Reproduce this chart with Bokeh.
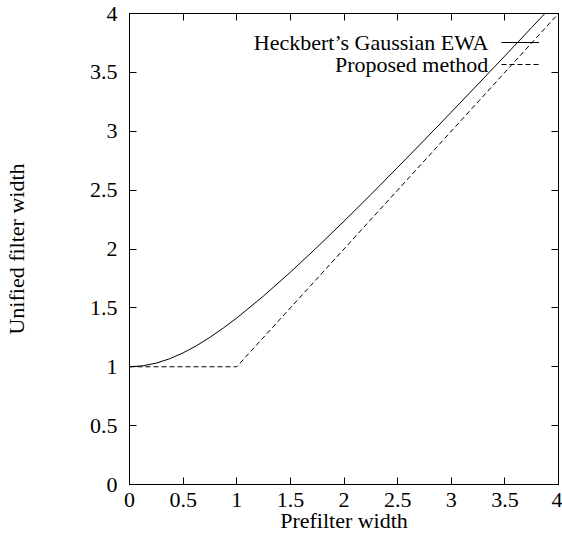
from bokeh.plotting import figure
from bokeh.models import Range1d, LinearAxis, FixedTicker, Legend, LegendItem, Label
from bokeh.embed import file_html
from bokeh.resources import INLINE

# Data
ewa_x = [0.0, 0.125, 0.25, 0.375, 0.5, 0.625, 0.75, 0.875, 1.0, 1.25, 1.5, 1.75, 2.0, 2.25, 2.5, 2.75, 3.0, 3.25, 3.5, 3.75, 4.0]
ewa_y = [1.0, 1.008, 1.031, 1.068, 1.118, 1.179, 1.25, 1.329, 1.414, 1.601, 1.803, 2.016, 2.236, 2.462, 2.693, 2.926, 3.162, 3.400, 3.640, 3.881, 4.123]
prop_x = [0.0, 1.0, 4.0]
prop_y = [1.0, 1.0, 4.0]
ticks = [0, 0.5, 1, 1.5, 2, 2.5, 3, 3.5, 4]
tick_labels = {0: "0", 0.5: "0.5", 1: "1", 1.5: "1.5", 2: "2", 2.5: "2.5", 3: "3", 3.5: "3.5", 4: "4"}
legend_labels = ["Heckbert\u2019s Gaussian EWA", "Proposed method"]
x_title = "Prefilter width"
y_title = "Unified filter width"

FONT = "Liberation Serif"
FS = "22px"

p = figure(frame_width=429, frame_height=471, output_backend="svg", toolbar_location=None,
           x_range=Range1d(0, 4), y_range=Range1d(0, 4),
           min_border_left=129, min_border_right=4, min_border_top=13, min_border_bottom=45,
           x_axis_label=x_title, y_axis_label=y_title)
p.grid.visible = False
p.outline_line_color = "black"
p.outline_line_width = 1
p.background_fill_color = "white"
p.border_fill_color = "white"

def style_axis(ax, labels=True):
    ax.ticker = FixedTicker(ticks=ticks)
    ax.major_label_overrides = tick_labels
    ax.major_tick_in = 7
    ax.major_tick_out = 0
    ax.minor_tick_in = 0
    ax.minor_tick_out = 0
    ax.axis_line_color = "black"
    ax.major_tick_line_color = "black"
    ax.major_label_text_font = FONT
    ax.major_label_text_font_size = FS if labels else "0px"
    ax.major_label_text_color = "black"
    ax.axis_label_text_font = FONT
    ax.axis_label_text_font_size = FS
    ax.axis_label_text_font_style = "normal"
    ax.axis_label_text_color = "black"

for ax in p.xaxis:
    style_axis(ax)
    ax.major_label_standoff = 8
    ax.axis_label_standoff = -2
for ax in p.yaxis:
    style_axis(ax)
    ax.major_label_standoff = 12
    ax.axis_label_standoff = 58

top = LinearAxis()
style_axis(top, labels=False)
top.major_label_standoff = 0
p.add_layout(top, "above")
right = LinearAxis()
style_axis(right, labels=False)
right.major_label_standoff = 0
p.add_layout(right, "right")

r1 = p.line(ewa_x, ewa_y, line_color="black", line_width=1)
r2 = p.line(prop_x, prop_y, line_color="black", line_width=1, line_dash="5 3")

legend = Legend(items=[LegendItem(label=" ", renderers=[r1]), LegendItem(label=" ", renderers=[r2])],
                location=(372, 409), glyph_width=38, glyph_height=22, label_width=0,
                label_standoff=0, label_text_font_size="1px", padding=0, margin=0, spacing=0,
                border_line_color=None, background_fill_alpha=0)
p.add_layout(legend, "center")

for txt, yy in zip(legend_labels, [3.754, 3.567]):
    p.add_layout(Label(x=3.346, y=yy, text=txt, text_align="right", text_baseline="middle",
                       text_font=FONT, text_font_size=FS, text_color="black"))

open("out.html", "w").write(file_html(p, INLINE))
